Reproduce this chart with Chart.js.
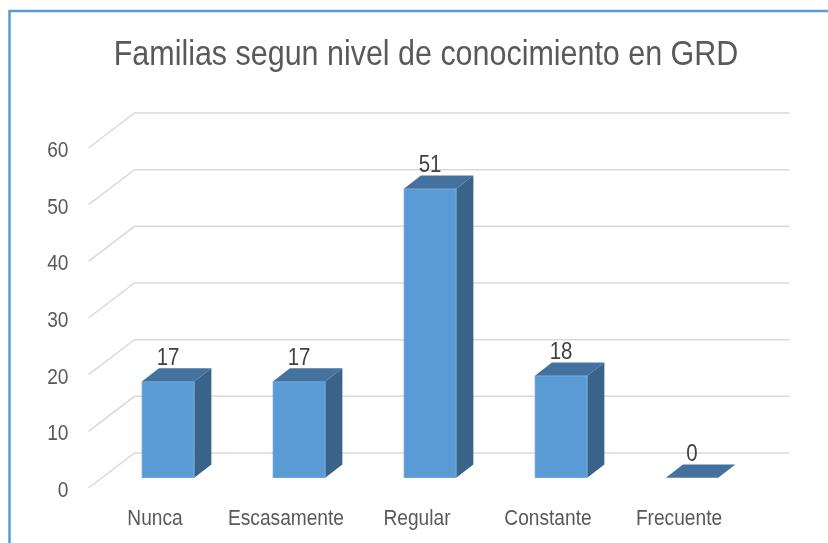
<!DOCTYPE html>
<html>
<head>
<meta charset="utf-8">
<script src="https://cdn.jsdelivr.net/npm/chart.js@4.4.1/dist/chart.umd.min.js"></script>
<style>
  html, body { margin: 0; padding: 0; background: #ffffff; }
  #wrap { width: 828px; height: 543px; }
</style>
</head>
<body>
<div id="wrap"><canvas id="grafico" width="828" height="543"></canvas></div>
<script>
// --- DATOS ---
const categorias = ['Nunca', 'Escasamente', 'Regular', 'Constante', 'Frecuente'];
const familias = [17, 17, 51, 18, 0];
const tituloTexto = 'Familias segun nivel de conocimiento en GRD';
const ejeMin = 0, ejeMax = 60, ejePaso = 10;

const fuente = '"Liberation Sans", Arial, sans-serif';
const ESTRECHO = 0.87; // el original usa una letra comprimida
const colFrente = '#5b9bd5', colLado = '#3a6389', colTecho = '#44729e';

// profundidad total del piso (front -> back) en px
const PROF_X = 45, PROF_Y = -35;
const BAR_INI = 0.29, BAR_FIN = 0.67;

// texto comprimido horizontalmente
function texto(ctx, s, x, y, size, color, align) {
  ctx.save();
  ctx.font = size + 'px ' + fuente;
  ctx.fillStyle = color;
  ctx.textAlign = align;
  ctx.textBaseline = 'alphabetic';
  ctx.translate(x, y);
  ctx.scale(ESTRECHO, 1);
  ctx.fillText(s, 0, 0);
  ctx.restore();
}

// --- PLUGIN 3D ---
const plugin3D = {
  id: 'plugin3D',
  beforeDraw(chart) {
    const ctx = chart.ctx;
    ctx.save();
    ctx.fillStyle = '#ffffff';
    ctx.fillRect(0, 0, chart.width, chart.height);
    // marco azul
    ctx.strokeStyle = '#5b9bd5';
    ctx.lineWidth = 2.5;
    ctx.beginPath();
    ctx.moveTo(9.5, chart.height + 5);
    ctx.lineTo(9.5, 11);
    ctx.lineTo(chart.width + 5, 11);
    ctx.stroke();
    ctx.restore();
    texto(ctx, tituloTexto, 426, 65, 35, '#595959', 'center');
  },
  beforeDatasetsDraw(chart) {
    const ctx = chart.ctx, y = chart.scales.y, x = chart.scales.x, a = chart.chartArea;
    ctx.save();
    ctx.strokeStyle = '#d9d9d9';
    ctx.lineWidth = 1.5;
    y.ticks.forEach(t => {
      let py = y.getPixelForValue(t.value);
      ctx.beginPath();
      ctx.moveTo(a.left - 1, py);
      ctx.lineTo(a.left + PROF_X, py + PROF_Y);
      ctx.lineTo(a.right + PROF_X, py + PROF_Y);
      ctx.stroke();
    });
    ctx.restore();
    // etiquetas de ejes
    y.ticks.forEach(t => {
      texto(ctx, String(t.value), a.left - 21, y.getPixelForValue(t.value) + 9, 22, '#595959', 'right');
    });
    x.ticks.forEach((t, i) => {
      texto(ctx, categorias[i], x.getPixelForTick(i), a.bottom + 37, 22, '#595959', 'center');
    });
  },
  afterDatasetsDraw(chart) {
    const ctx = chart.ctx, meta = chart.getDatasetMeta(0);
    const fx = PROF_X * BAR_INI, fy = PROF_Y * BAR_INI;
    const dx = PROF_X * (BAR_FIN - BAR_INI), dy = PROF_Y * (BAR_FIN - BAR_INI);
    ctx.save();
    meta.data.forEach((bar, i) => {
      let w = bar.width;
      let l = bar.x - w / 2 + fx, r = bar.x + w / 2 + fx;
      let top = bar.y + fy, bot = bar.base + fy;
      if (bot - top > 0.5) {
        // lado
        ctx.fillStyle = colLado;
        ctx.beginPath();
        ctx.moveTo(r, top); ctx.lineTo(r + dx, top + dy);
        ctx.lineTo(r + dx, bot + dy); ctx.lineTo(r, bot);
        ctx.closePath(); ctx.fill();
        // frente
        ctx.fillStyle = colFrente;
        ctx.fillRect(l, top, w, bot - top);
        ctx.strokeStyle = '#6aa6dc';
        ctx.lineWidth = 1;
        ctx.strokeRect(l + 0.5, top + 0.5, w - 1, bot - top - 1);
      }
      // techo
      ctx.fillStyle = colTecho;
      ctx.beginPath();
      ctx.moveTo(l, top); ctx.lineTo(l + dx, top + dy);
      ctx.lineTo(r + dx, top + dy); ctx.lineTo(r, top);
      ctx.closePath(); ctx.fill();
      // etiqueta
      texto(ctx, String(familias[i]), bar.x + fx, top + dy - 3.5, 23.5, '#404040', 'center');
    });
    ctx.restore();
  }
};

// --- GRAFICO ---
new Chart(document.getElementById('grafico').getContext('2d'), {
  type: 'bar',
  data: {
    labels: categorias,
    datasets: [{ label: 'Familias', data: familias, backgroundColor: 'rgba(0,0,0,0)', borderWidth: 0,
                 categoryPercentage: 1, barPercentage: 0.4 }]
  },
  options: {
    responsive: false,
    animation: false,
    layout: { padding: { left: 8, right: 83.5, top: 148, bottom: 0 } },
    plugins: {
      legend: { display: false },
      tooltip: { enabled: false },
      title: { display: false }
    },
    scales: {
      x: {
        grid: { display: false, drawTicks: false },
        border: { display: false },
        ticks: { display: false, autoSkip: false },
        afterFit(s) { s.height = 55; }
      },
      y: {
        min: ejeMin, max: ejeMax,
        grid: { display: false, drawTicks: false },
        border: { display: false },
        ticks: { display: false, stepSize: ejePaso },
        afterFit(s) { s.width = 81.5; }
      }
    }
  },
  plugins: [plugin3D]
});
</script>
</body>
</html>
